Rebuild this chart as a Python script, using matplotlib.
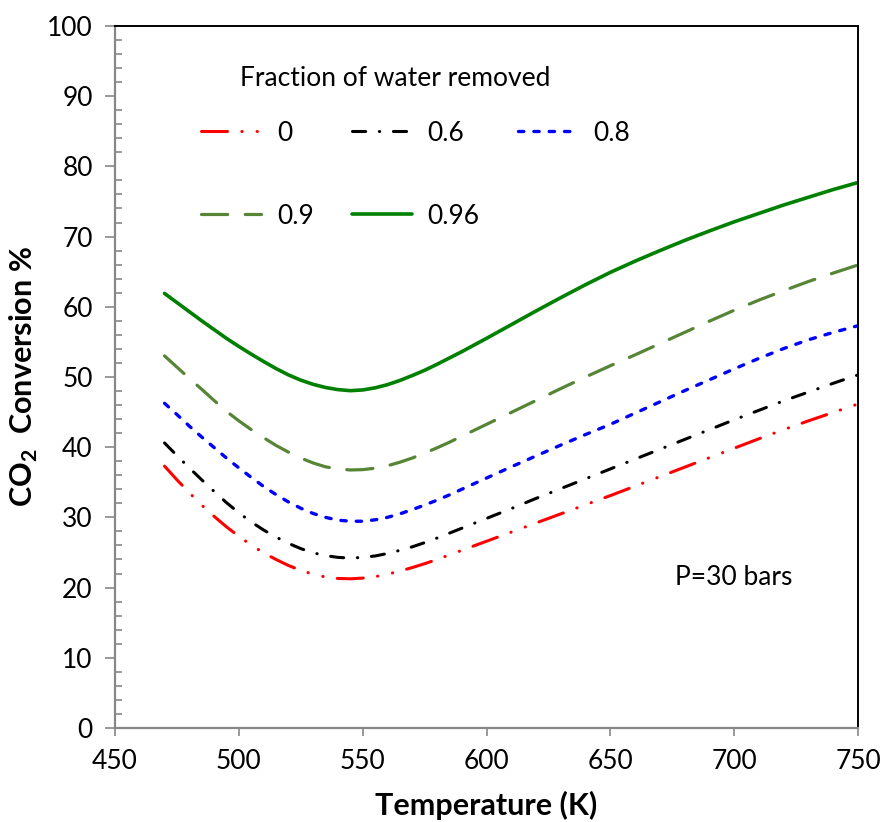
import matplotlib
matplotlib.use("Agg")
import matplotlib.pyplot as plt
from matplotlib.ticker import MultipleLocator

plt.rcParams['font.family'] = ['Lato', 'DejaVu Sans']
plt.rcParams['mathtext.fontset'] = 'custom'
plt.rcParams['mathtext.rm'] = 'Lato'
plt.rcParams['mathtext.bf'] = 'Lato:bold'

# Temperature grid (K): 5 K steps up to 600 K, 10 K steps above
temperature = list(range(470, 605, 5)) + list(range(610, 760, 10))

# CO2 conversion (%) for each fraction of water removed
conv_0 = [37.3, 35.35, 33.5, 31.75, 30.15, 28.65, 27.3, 26.05, 24.95, 24.0,
          23.15, 22.45, 21.9, 21.5, 21.3, 21.25, 21.35, 21.55, 21.9, 22.35,
          22.85, 23.4, 24.0, 24.65, 25.3, 25.95, 26.6,
          27.9, 29.2, 30.5, 31.8, 33.1, 34.45, 35.8, 37.15, 38.5, 39.85,
          41.2, 42.5, 43.75, 44.95, 46.15]
conv_06 = [40.6, 38.8, 37.05, 35.35, 33.7, 32.1, 30.65, 29.35, 28.2, 27.2,
           26.3, 25.55, 24.95, 24.55, 24.3, 24.2, 24.3, 24.5, 24.85, 25.3,
           25.8, 26.4, 27.05, 27.75, 28.45, 29.15, 29.85,
           31.25, 32.7, 34.1, 35.5, 36.9, 38.3, 39.7, 41.1, 42.5, 43.9,
           45.25, 46.6, 47.85, 49.1, 50.3]
conv_08 = [46.25, 44.65, 43.0, 41.45, 39.95, 38.45, 37.05, 35.7, 34.4, 33.25,
           32.2, 31.3, 30.55, 30.0, 29.6, 29.45, 29.45, 29.65, 30.0, 30.5,
           31.1, 31.75, 32.45, 33.2, 34.0, 34.8, 35.6,
           37.2, 38.75, 40.3, 41.8, 43.25, 44.85, 46.45, 48.05, 49.6, 51.15,
           52.65, 54.05, 55.3, 56.35, 57.3]
conv_09 = [53.0, 51.4, 49.8, 48.25, 46.65, 45.1, 43.75, 42.5, 41.35, 40.25,
           39.3, 38.45, 37.75, 37.2, 36.9, 36.75, 36.8, 37.0, 37.35, 37.85,
           38.45, 39.15, 39.9, 40.7, 41.55, 42.4, 43.25,
           44.95, 46.65, 48.35, 50.0, 51.6, 53.15, 54.75, 56.35, 57.95, 59.5,
           60.95, 62.3, 63.6, 64.8, 65.95]
conv_096 = [61.9, 60.6, 59.3, 58.0, 56.75, 55.5, 54.35, 53.25, 52.2, 51.2,
            50.3, 49.55, 48.95, 48.5, 48.2, 48.05, 48.15, 48.45, 48.9, 49.5,
            50.2, 50.95, 51.8, 52.7, 53.6, 54.55, 55.5,
            57.45, 59.4, 61.3, 63.15, 64.9, 66.5, 68.0, 69.45, 70.8, 72.1,
            73.3, 74.5, 75.6, 76.7, 77.7]

labels = ['0', '0.6', '0.8', '0.9', '0.96']
series = [conv_0, conv_06, conv_08, conv_09, conv_096]
colors = ['#FF0000', '#000000', '#0000FF', '#568536', '#008000']
widths = [2.2, 2.2, 2.4, 2.3, 2.6]
dash_patterns = [
    (0, (8.5, 4.7, 0.1, 4.9, 0.1, 4.7)),   # long dash, dot, dot
    (0, (4.3, 4.5, 0.1, 4.5)),             # dash, dot
    (0, (1.6, 3.0)),                       # short dash
    (0, (8.2, 5.5)),                       # long dash
    '-',                                   # solid
]

fig = plt.figure(figsize=(8.8, 8.22), dpi=100)
ax = fig.add_axes([0.1307, 0.1144, 0.8443, 0.854])

handles = []
for y, lab, c, lw, ls in zip(series, labels, colors, widths, dash_patterns):
    ln, = ax.plot(temperature, y, color=c, lw=lw, linestyle=ls,
                  dash_capstyle='round', solid_capstyle='round', label=lab)
    handles.append(ln)

ax.set_xlim(450, 750)
ax.set_ylim(0, 100)
ax.xaxis.set_major_locator(MultipleLocator(50))
ax.yaxis.set_major_locator(MultipleLocator(10))
ax.yaxis.set_minor_locator(MultipleLocator(2))

axis_gray = '#878787'
for side in ('left', 'bottom'):
    ax.spines[side].set_color(axis_gray)
    ax.spines[side].set_linewidth(1.6)
for side in ('top', 'right'):
    ax.spines[side].set_color('black')
    ax.spines[side].set_linewidth(1.4)

ax.tick_params(axis='y', which='major', direction='out', length=7, width=1.2,
               color=axis_gray, labelsize=19, pad=9)
ax.tick_params(axis='y', which='minor', direction='in', length=5, width=1.2,
               color=axis_gray)
ax.tick_params(axis='x', which='major', direction='out', length=6, width=1.2,
               color=axis_gray, labelsize=19, pad=9)

ax.set_xlabel('Temperature (K)', fontsize=22, fontweight='bold', labelpad=12)
ax.set_ylabel(r'CO$_{\mathbf{2}}$  Conversion %', fontsize=22,
              fontweight='bold', labelpad=5)

ax.text(676, 21.4, 'P=30 bars', fontsize=19, ha='left', va='center')

# Legend heading and entries (rows: 0 / 0.6 / 0.8, then 0.9 / 0.96)
ax.text(0.377, 0.925, 'Fraction of water removed', fontsize=19,
        ha='center', va='center', transform=ax.transAxes)
order = [0, 3, 1, 4, 2]
leg = ax.legend([handles[i] for i in order], [labels[i] for i in order],
                ncol=3, frameon=False, fontsize=19, handlelength=2.27,
                handletextpad=0.6, columnspacing=1.45, labelspacing=2.2,
                loc='upper left', bbox_to_anchor=(0.084, 0.899))

fig.savefig('out.png', dpi=100)
